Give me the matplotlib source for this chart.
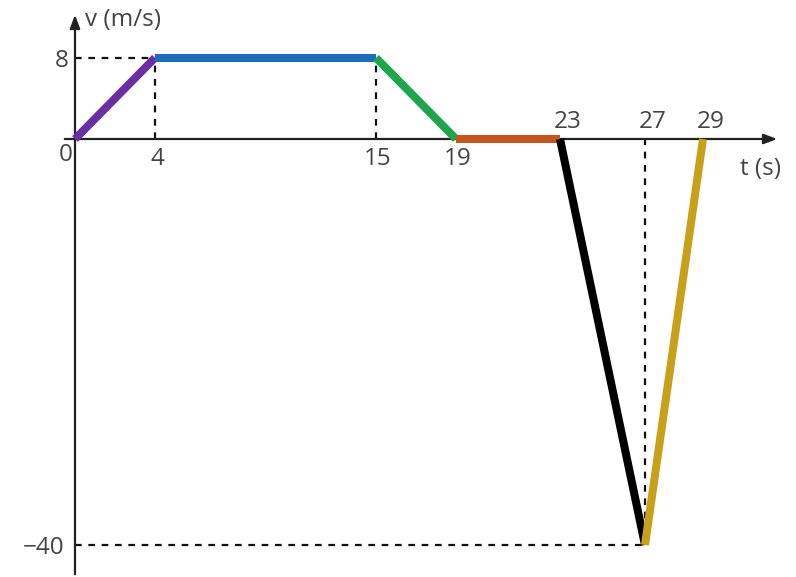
import numpy as np
import matplotlib
matplotlib.use("Agg")
import matplotlib.pyplot as plt

# Data: velocity-time graph segments
times = [0, 4, 15, 19, 23, 27, 29]
velocity = [0, 8, 8, 0, 0, -40, 0]
seg_colors = ["#6b2fa3", "#1f6db8", "#1fa64d", "#c2561e", "#000000", "#c8a11b"]
x_ticks = [0, 4, 15, 19, 23, 27, 29]
x_tick_labels = ["0", "4", "15", "19", "23", "27", "29"]

# The drawing is not to scale along t: piecewise-linear scale
T_break = [-10, 0, 4, 15, 19, 23, 27, 29, 40]
P_break = [-125, 75, 155, 376, 456, 560, 645, 703, 1022]

def fwd(t):
    return np.interp(t, T_break, P_break)

def inv(p):
    return np.interp(p, P_break, T_break)

fig = plt.figure(figsize=(7.96, 5.77), dpi=100)
ax = fig.add_axes([0, 0, 1, 1])
ax.set_xscale("function", functions=(fwd, inv))
ax.set_xlim(inv(0), inv(796))
ypx = 10.15
ax.set_ylim(-(577 - 139) / ypx, 139 / ypx)
ax.axis("off")

font = dict(family=["Open Sans", "DejaVu Sans"], color="#444444", fontsize=17.5)

# axes with arrows
ax.annotate("", xy=(inv(780), 0), xytext=(inv(62), 0),
            arrowprops=dict(arrowstyle="-|>,head_length=0.8,head_width=0.3", color="#222", lw=1.6))
ax.annotate("", xy=(0, (139 - 12) / ypx), xytext=(0, -(577 - 139) / ypx),
            arrowprops=dict(arrowstyle="-|>,head_length=0.8,head_width=0.3", color="#222", lw=1.6))

# dashed guides
dash = dict(color="#111", lw=1.6, ls=(0, (3, 3)))
ax.plot([0, 4], [8, 8], **dash)
ax.plot([4, 4], [0, 8], **dash)
ax.plot([15, 15], [0, 8], **dash)
ax.plot([0, 27], [-40, -40], **dash)
ax.plot([27, 27], [-40, 0], **dash)

# segments
for i, c in enumerate(seg_colors):
    ax.plot(times[i:i + 2], velocity[i:i + 2], color=c, lw=5.8, solid_capstyle="butt", zorder=3)

# tick labels
below = ["0", "4", "15", "19"]
for t, lab in zip(x_ticks, x_tick_labels):
    if lab == "0":
        ax.text(inv(66), -1.6, lab, ha="center", va="center", **font)
    elif lab in below:
        ax.text(inv(fwd(t) + 2), -2.0, lab, ha="center", va="center", **font)
    else:
        ax.text(inv(fwd(t) + 8), 1.7, lab, ha="center", va="center", **font)

ax.text(inv(62), 7.7, "8", ha="center", va="center", **font)
ax.text(inv(64), -40.3, "\u221240", ha="right", va="center", **font)
ax.text(inv(740), -3.0, "t (s)", ha="left", va="center", **font)
ax.text(inv(85), 11.7, "v (m/s)", ha="left", va="center", **font)

fig.savefig("out.png", dpi=100)
